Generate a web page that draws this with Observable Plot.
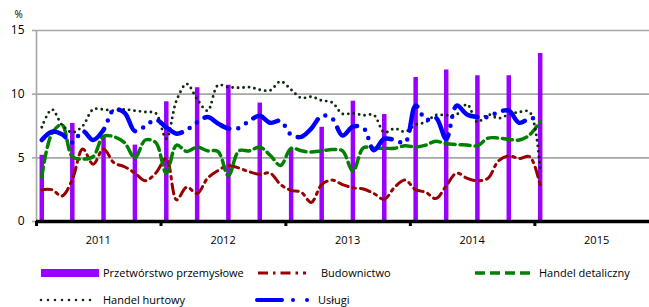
<!DOCTYPE html>
<html><head><meta charset="utf-8">
<script src="https://cdn.jsdelivr.net/npm/d3@7"></script>
<script src="https://cdn.jsdelivr.net/npm/@observablehq/plot@0.6"></script>
<style>
body{margin:0;background:#fff;font-family:"Open Sans",sans-serif;}
#wrap{position:relative;width:649px;height:307px;overflow:hidden;background:#fff}
.leg{position:absolute;font-size:11px;color:#000;white-space:nowrap;line-height:14px}
.sw{position:absolute;overflow:visible}
</style></head><body><div id="wrap"></div>
<script>
// ---- data ----
const years = [2011, 2012, 2013, 2014, 2015];
const seriesNames = ["Przetwórstwo przemysłowe", "Budownictwo", "Handel detaliczny", "Handel hurtowy", "Usługi"];
// quarterly (Jan, Apr, Jul, Oct) 2011 Q1 – 2015 Q1
const przetworstwo = [5.2, 7.7, 6.6, 6.0, 9.4, 10.5, 10.7, 9.3, 5.7, 7.4, 9.45, 8.4, 11.3, 11.9, 11.45, 11.45, 13.2];
// monthly Jan 2011 – Jan 2015
const budownictwo = [2.5,2.5,2.0,3.3,5.7,4.5,5.7,4.6,4.3,3.8,3.2,3.8, 4.95,1.7,2.7,2.2,3.4,4.0,4.4,4.2,3.9,3.7,3.8,2.9, 2.45,2.3,1.5,2.9,3.25,2.9,2.65,2.55,2.2,1.75,2.7,3.25, 2.5,2.3,1.8,2.8,3.8,3.4,3.2,3.4,4.75,5.15,4.95,5.1, 2.8];
const detaliczny = [3.5,6.9,7.6,5.1,4.9,5.1,6.7,6.65,6.2,5.0,6.4,6.2, 3.8,6.0,5.5,5.85,5.55,5.5,3.6,5.55,5.55,5.85,5.2,4.4, 5.75,5.55,5.45,5.55,5.65,5.55,3.95,5.8,5.75,5.75,5.75,5.95, 5.85,6.0,6.3,6.1,6.05,6.0,5.95,6.55,6.55,6.45,6.4,6.8, 7.85];
const hurtowy = [7.4,8.8,7.6,7.0,7.5,8.8,8.8,8.7,8.8,8.7,8.6,8.5, 6.5,9.5,10.8,9.6,8.7,10.7,10.55,10.5,10.55,10.35,10.3,11.0, 10.35,9.7,9.8,9.5,9.35,8.45,8.5,8.35,8.35,7.0,7.3,7.05, 7.6,7.8,8.35,8.35,8.4,9.2,7.8,8.4,8.1,8.4,8.6,8.6, 4.0];
const uslugi = [6.4,7.05,6.85,6.2,7.1,6.4,7.2,8.8,8.55,7.1,7.5,8.0, 7.4,6.9,7.2,7.8,8.2,7.7,7.3,7.35,7.9,8.3,7.75,7.9, 6.8,6.65,7.3,8.3,8.1,6.75,7.45,7.35,5.6,6.5,6.4,6.2, 9.1,8.0,8.15,6.5,9.1,8.4,8.2,8.2,8.6,8.7,7.75,8.1, 8.0];
const yTicks = [0, 5, 10, 15];

// ---- styles ----
const C = {
  bar: "#9900ff", bud: "#990000", det: "#008000", hurt: "#0d2b0d", usl: "#0000ff", grid: "#a6a6a6"
};
const ST = {
  bud: {stroke: C.bud, strokeWidth: 3, strokeDasharray: "10,5,2.5,5"},
  det: {stroke: C.det, strokeWidth: 3.5, strokeDasharray: "10,5"},
  hurt: {stroke: C.hurt, strokeWidth: 2.9, strokeDasharray: "0,5.5", strokeLinecap: "round"},
  usl: {stroke: C.usl, strokeWidth: 4.5, strokeDasharray: "28,9,0,9,0,9", strokeLinecap: "round"}
};

// ---- derived tables ----
const monthStart = i => new Date(Date.UTC(2011, i, 1));
const monthMid = i => new Date((+monthStart(i) + +monthStart(i + 1)) / 2);
const toRows = arr => arr.map((v, i) => ({date: monthMid(i), value: v}));
const barRows = przetworstwo.map((v, q) => ({date: monthMid(q * 3), value: v}));
const yearStarts = years.map(y => new Date(Date.UTC(y, 0, 1)));
const yearMids = years.map(y => new Date(Date.UTC(y, 6, 1)));
const xDomain = [new Date(Date.UTC(2011, 0, 1)), new Date(Date.UTC(2015, 11, 3))];

const W = 649, H = 250;
const chart = Plot.plot({
  width: W, height: H,
  marginLeft: 36, marginRight: 0, marginTop: 30, marginBottom: 29,
  style: {fontFamily: "'Open Sans', sans-serif", fontSize: "11px", overflow: "visible", background: "#fff"},
  x: {type: "utc", domain: xDomain},
  y: {domain: [0, 15]},
  marks: [
    Plot.gridY([5, 10, 15], {stroke: C.grid, strokeOpacity: 1, strokeWidth: 1.6}),
    Plot.ruleX([xDomain[0]], {y1: 0, y2: 15, stroke: C.grid, strokeWidth: 1.6}),
    Plot.axisY(yTicks, {tickSize: 4, tickPadding: 8, stroke: C.grid, strokeWidth: 1.6, fontSize: 12, label: null}),
    Plot.ruleX(barRows, {x: "date", y1: 0, y2: "value", stroke: C.bar, strokeWidth: 4.5}),
    Plot.line(toRows(budownictwo), {x: "date", y: "value", curve: "catmull-rom", ...ST.bud}),
    Plot.line(toRows(detaliczny), {x: "date", y: "value", curve: "catmull-rom", ...ST.det}),
    Plot.line(toRows(hurtowy), {x: "date", y: "value", curve: "catmull-rom", ...ST.hurt}),
    Plot.line(toRows(uslugi), {x: "date", y: "value", curve: "catmull-rom", ...ST.usl}),
    Plot.ruleY([0], {stroke: "#000", strokeWidth: 3.5}),
    Plot.axisX(yearStarts, {tickSize: 5, stroke: "#000", strokeWidth: 3, tickFormat: () => "", label: null}),
    Plot.axisX(yearMids, {tickSize: 0, tickPadding: 15, tickFormat: "%Y", fontSize: 11, label: null}),
    Plot.text(["%"], {frameAnchor: "top-left", dx: -22, dy: -20, fontSize: 10, textAnchor: "start"})
  ]
});

const wrap = document.getElementById("wrap");
chart.style.position = "absolute"; chart.style.left = "0"; chart.style.top = "0";
wrap.appendChild(chart);

// ---- legend (HTML below the SVG) ----
function swatch(left, top, w, h, inner) {
  const s = document.createElementNS("http://www.w3.org/2000/svg", "svg");
  s.setAttribute("class", "sw"); s.setAttribute("width", w); s.setAttribute("height", h);
  s.style.left = left + "px"; s.style.top = top + "px";
  s.innerHTML = inner; wrap.appendChild(s);
}
function label(left, cy, text) {
  const d = document.createElement("div");
  d.className = "leg"; d.textContent = text;
  d.style.left = left + "px"; d.style.top = (cy - 7) + "px";
  wrap.appendChild(d);
}
const line = (st, x1, x2) => `<line x1="${x1}" x2="${x2}" y1="5" y2="5" stroke="${st.stroke}" stroke-width="${st.strokeWidth}" stroke-dasharray="${st.strokeDasharray}" stroke-linecap="${st.strokeLinecap || 'butt'}"/>`;
const r1 = 273, r2 = 300;
swatch(41, r1 - 4, 58, 8, `<rect width="58" height="8" fill="${C.bar}"/>`);
label(103, r1, seriesNames[0]);
swatch(258, r1 - 5, 50, 10, line(ST.bud, 0, 48));
label(321, r1, seriesNames[1]);
swatch(475, r1 - 5, 60, 10, line(ST.det, 0, 58));
label(539, r1, seriesNames[2]);
swatch(40, r2 - 5, 60, 10, `<line x1="1" x2="57" y1="5" y2="5" stroke="${C.hurt}" stroke-width="2.6" stroke-dasharray="0,7" stroke-linecap="round"/>`);
label(103, r2, seriesNames[3]);
swatch(255, r2 - 5, 56, 10, `<line x1="2" x2="27" y1="5" y2="5" stroke="${C.usl}" stroke-width="4" stroke-linecap="round"/><circle cx="38" cy="5" r="2" fill="${C.usl}"/><circle cx="52" cy="5" r="2" fill="${C.usl}"/>`);
label(318, r2, seriesNames[4]);
</script></body></html>
